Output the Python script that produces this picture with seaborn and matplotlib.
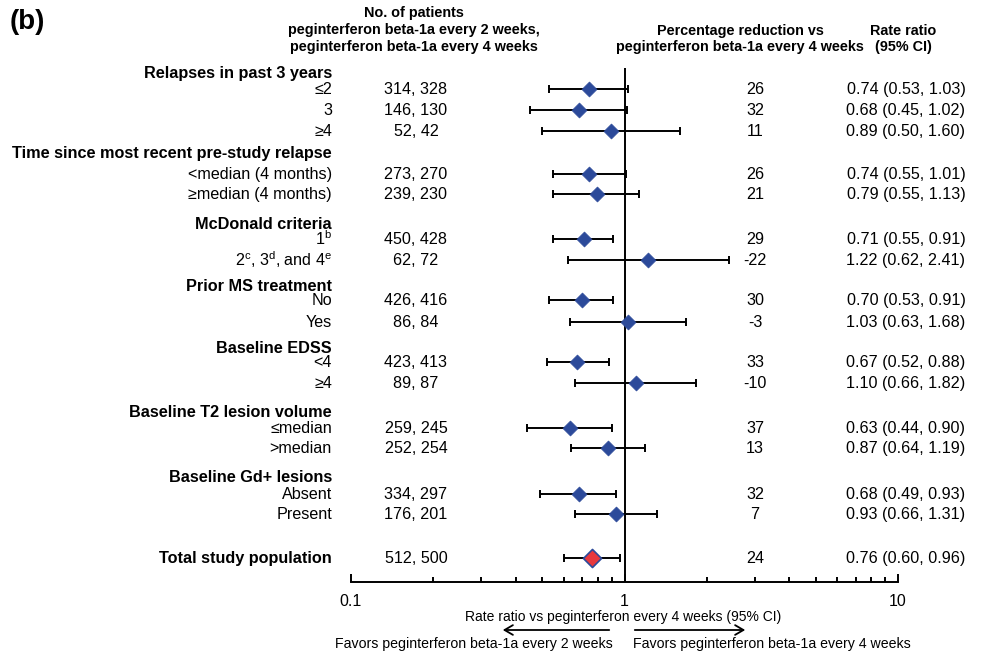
import numpy as np
import pandas as pd
import matplotlib
matplotlib.use("Agg")
import matplotlib.pyplot as plt
from matplotlib.patches import FancyArrowPatch
from matplotlib.transforms import blended_transform_factory
from matplotlib.ticker import FixedLocator, FixedFormatter, NullFormatter, LogLocator
import seaborn as sns

# ---- data -------------------------------------------------------------
section_titles = [
    "Relapses in past 3 years",
    "Time since most recent pre-study relapse",
    "McDonald criteria",
    "Prior MS treatment",
    "Baseline EDSS",
    "Baseline T2 lesion volume",
    "Baseline Gd+ lesions",
]
subgroup_labels = [
    "≤2", "3", "≥4",
    "<median (4 months)", "≥median (4 months)",
    "1$^{\\mathrm{b}}$", "2$^{\\mathrm{c}}$, 3$^{\\mathrm{d}}$, and 4$^{\\mathrm{e}}$",
    "No", "Yes",
    "<4", "≥4",
    "≤median", ">median",
    "Absent", "Present",
]
n_q2w = [314, 146, 52, 273, 239, 450, 62, 426, 86, 423, 89, 259, 252, 334, 176]
n_q4w = [328, 130, 42, 270, 230, 428, 72, 416, 84, 413, 87, 245, 254, 297, 201]
pct_reduction = [26, 32, 11, 26, 21, 29, -22, 30, -3, 33, -10, 37, 13, 32, 7]
rate_ratio = [0.74, 0.68, 0.89, 0.74, 0.79, 0.71, 1.22, 0.70, 1.03, 0.67, 1.10, 0.63, 0.87, 0.68, 0.93]
ci_low = [0.53, 0.45, 0.50, 0.55, 0.55, 0.55, 0.62, 0.53, 0.63, 0.52, 0.66, 0.44, 0.64, 0.49, 0.66]
ci_high = [1.03, 1.02, 1.60, 1.01, 1.13, 0.91, 2.41, 0.91, 1.68, 0.88, 1.82, 0.90, 1.19, 0.93, 1.31]

total_label = "Total study population"
total_n = (512, 500)
total_pct = 24
total_rr, total_lo, total_hi = 0.76, 0.60, 0.96

x_ticks = [0.1, 1, 10]
x_tick_labels = ["0.1", "1", "10"]

# ---- layout (vertical positions measured from the top, in pixels) -----
W, H = 981, 653
header_pos = [73, 153, 224, 286, 348, 412, 477]
row_pos = [89, 110, 131, 174, 194, 239, 260, 300, 322, 362, 383, 428, 448, 494, 514]
total_pos = 558
axis_pos = 582

df = pd.DataFrame({
    "label": subgroup_labels, "rr": rate_ratio, "lo": ci_low, "hi": ci_high,
    "y": row_pos,
})

sns.set_theme(style="white")
plt.rcParams["font.family"] = ["Liberation Sans", "DejaVu Sans"]
plt.rcParams["text.color"] = "black"
plt.rcParams["xtick.color"] = "black"
plt.rcParams["xtick.labelcolor"] = "black"
plt.rcParams["mathtext.fontset"] = "custom"
plt.rcParams["mathtext.rm"] = "Liberation Sans"
plt.rcParams["mathtext.it"] = "Liberation Sans:italic"
plt.rcParams["mathtext.bf"] = "Liberation Sans:bold"

fig = plt.figure(figsize=(W / 100, H / 100), dpi=100)
ax = fig.add_axes([351 / W, 1 - axis_pos / H, (898 - 351) / W, (axis_pos - 60) / H])
ax.set_xscale("log")
ax.set_xlim(0.1, 10)
ax.set_ylim(axis_pos, 60)

navy = "#2c4a9a"
red = "#e8383d"
lw = 1.4

# line of no effect
ax.vlines(1, axis_pos, 68, color="black", lw=lw, zorder=1)

# confidence intervals
ax.errorbar(df["rr"], df["y"], xerr=[df["rr"] - df["lo"], df["hi"] - df["rr"]],
            fmt="none", ecolor="black", elinewidth=lw, capsize=3.2, capthick=lw,
            zorder=2, clip_on=False)
ax.errorbar([total_rr], [total_pos], xerr=[[total_rr - total_lo], [total_hi - total_rr]],
            fmt="none", ecolor="black", elinewidth=lw, capsize=3.2, capthick=lw,
            zorder=2, clip_on=False)

# point estimates
sns.scatterplot(data=df, x="rr", y="y", marker="D", s=58, color=navy,
                edgecolor=navy, linewidth=0.5, ax=ax, legend=False, zorder=3)
sns.scatterplot(x=[total_rr], y=[total_pos], marker="D", s=85, color=red,
                edgecolor=navy, linewidth=1.2, ax=ax, legend=False, zorder=3)

# axis styling
for side in ("left", "top", "right"):
    ax.spines[side].set_visible(False)
ax.spines["bottom"].set_linewidth(lw)
ax.spines["bottom"].set_color("black")
ax.set_yticks([])
ax.set_ylabel("")
ax.set_xlabel("")
ax.xaxis.set_major_locator(FixedLocator(x_ticks))
ax.xaxis.set_major_formatter(FixedFormatter(x_tick_labels))
ax.xaxis.set_minor_locator(LogLocator(base=10, subs=np.arange(2, 10)))
ax.xaxis.set_minor_formatter(NullFormatter())
ax.tick_params(axis="x", which="major", direction="in", length=6, width=lw,
               color="black", labelcolor="black", labelsize=11.5, pad=9, bottom=True)
ax.tick_params(axis="x", which="minor", direction="in", length=3.5, width=lw,
               color="black", bottom=True)
ax.grid(False)

# ---- text columns -----------------------------------------------------
tr = blended_transform_factory(fig.transFigure, ax.transData)
fs_row = 11.6
fs_head = 11.7
label_x = 332 / W
count_x = 416 / W
pct_x = 755 / W
rr_x = 906 / W

for title, y in zip(section_titles, header_pos):
    fig.text(label_x, y, title, transform=tr, ha="right", va="center",
             fontsize=fs_head, fontweight="bold")

for i, y in enumerate(row_pos):
    fig.text(label_x, y, subgroup_labels[i], transform=tr, ha="right", va="center", fontsize=fs_row)
    fig.text(count_x, y, f"{n_q2w[i]}, {n_q4w[i]}", transform=tr, ha="center", va="center", fontsize=fs_row)
    fig.text(pct_x, y, f"{pct_reduction[i]}", transform=tr, ha="center", va="center", fontsize=fs_row)
    fig.text(rr_x, y, f"{rate_ratio[i]:.2f} ({ci_low[i]:.2f}, {ci_high[i]:.2f})",
             transform=tr, ha="center", va="center", fontsize=fs_row)

fig.text(label_x, total_pos, total_label, transform=tr, ha="right", va="center",
         fontsize=fs_head, fontweight="bold")
fig.text(count_x, total_pos, f"{total_n[0]}, {total_n[1]}", transform=tr, ha="center", va="center", fontsize=fs_row)
fig.text(pct_x, total_pos, f"{total_pct}", transform=tr, ha="center", va="center", fontsize=fs_row)
fig.text(rr_x, total_pos, f"{total_rr:.2f} ({total_lo:.2f}, {total_hi:.2f})",
         transform=tr, ha="center", va="center", fontsize=fs_row)

# column headers
def ftext(px, py, s, **kw):
    fig.text(px / W, 1 - py / H, s, **kw)

ftext(10, 22, "(b)", fontsize=20, fontweight="bold", ha="left", va="center")
hk = dict(fontsize=10.4, fontweight="bold", ha="center", va="center")
ftext(414, 13, "No. of patients", **hk)
ftext(414, 30, "peginterferon beta-1a every 2 weeks,", **hk)
ftext(414, 47, "peginterferon beta-1a every 4 weeks", **hk)
ftext(740, 31, "Percentage reduction vs", **hk)
ftext(740, 47, "peginterferon beta-1a every 4 weeks", **hk)
ftext(903, 31, "Rate ratio", **hk)
ftext(903, 47, "(95% CI)", **hk)

# axis caption and direction arrows
ftext(623, 617, "Rate ratio vs peginterferon every 4 weeks (95% CI)",
      fontsize=10, ha="center", va="center")
arrow_kw = dict(transform=fig.transFigure, arrowstyle="->,head_length=6,head_width=3.5",
                lw=1.3, color="black", mutation_scale=1)
fig.add_artist(FancyArrowPatch((612 / W, 1 - 630 / H), (500 / W, 1 - 630 / H), **arrow_kw))
fig.add_artist(FancyArrowPatch((632 / W, 1 - 630 / H), (748 / W, 1 - 630 / H), **arrow_kw))
ftext(613, 644, "Favors peginterferon beta-1a every 2 weeks", fontsize=10.2, ha="right", va="center")
ftext(633, 644, "Favors peginterferon beta-1a every 4 weeks", fontsize=10.2, ha="left", va="center")

fig.savefig("out.png", dpi=100, facecolor="white")
